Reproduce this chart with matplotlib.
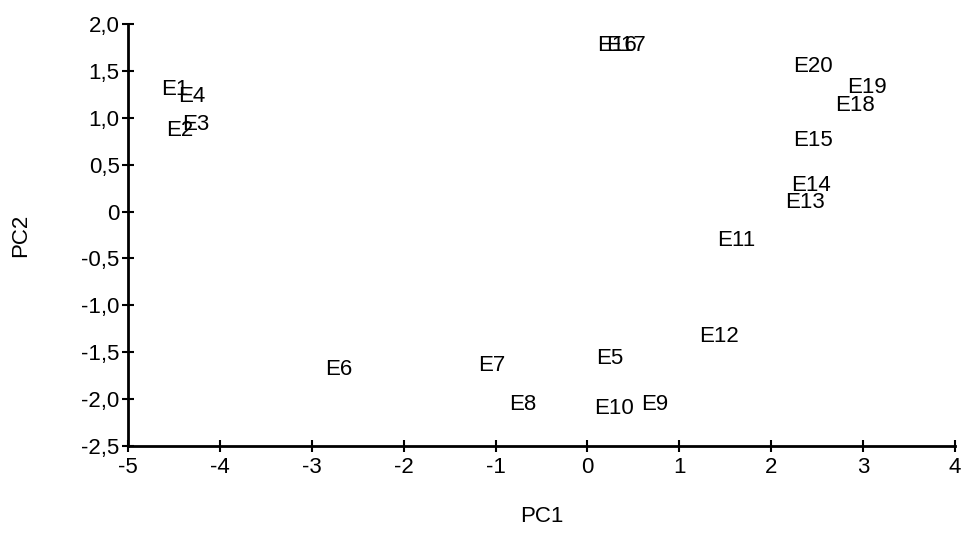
import matplotlib.pyplot as plt
from matplotlib.ticker import FuncFormatter

# PCA scores (label anchored at its left edge)
labels = ['E1', 'E2', 'E3', 'E4', 'E5', 'E6', 'E7', 'E8', 'E9', 'E10',
          'E11', 'E12', 'E13', 'E14', 'E15', 'E16', 'E17', 'E18', 'E19', 'E20']
pc1 = [-4.64, -4.58, -4.41, -4.46, 0.09, -2.85, -1.19, -0.85, 0.58, 0.07,
       1.41, 1.22, 2.15, 2.22, 2.24, 0.11, 0.20, 2.70, 2.83, 2.24]
pc2 = [1.30, 0.86, 0.93, 1.23, -1.57, -1.68, -1.64, -2.06, -2.06, -2.10,
       -0.31, -1.33, 0.10, 0.28, 0.76, 1.77, 1.77, 1.13, 1.32, 1.55]

x_ticks = [-5, -4, -3, -2, -1, 0, 1, 2, 3, 4]
y_ticks = [-2.5, -2.0, -1.5, -1.0, -0.5, 0, 0.5, 1.0, 1.5, 2.0]

plt.rcParams['font.family'] = ['Liberation Sans', 'DejaVu Sans']

fig = plt.figure(figsize=(9.64, 5.52), dpi=100)
ax = fig.add_axes([0.1328, 0.192, 0.8579, 0.7645])

for lab, x, y in zip(labels, pc1, pc2):
    ax.text(x, y, lab, ha='left', va='center', fontsize=16, color='black')

ax.set_xlim(-5, 4)
ax.set_ylim(-2.5, 2.0)
ax.set_xticks(x_ticks)
ax.set_yticks(y_ticks)

# decimal comma on the y axis, plain "0" at the origin
ax.xaxis.set_major_formatter(FuncFormatter(lambda v, p: '%d' % v))
ax.yaxis.set_major_formatter(FuncFormatter(lambda v, p: '0' if v == 0 else ('%.1f' % v).replace('.', ',')))

for s in ['top', 'right']:
    ax.spines[s].set_visible(False)
for s in ['left', 'bottom']:
    ax.spines[s].set_linewidth(2)

ax.tick_params(direction='inout', length=8, width=1.5, labelsize=16)
ax.tick_params(axis='x', pad=4)
ax.tick_params(axis='y', pad=2)

ax.set_xlabel('PC1', fontsize=16, labelpad=20)
ax.set_ylabel('PC2', fontsize=16, labelpad=36)

fig.savefig('out.png', dpi=100)
